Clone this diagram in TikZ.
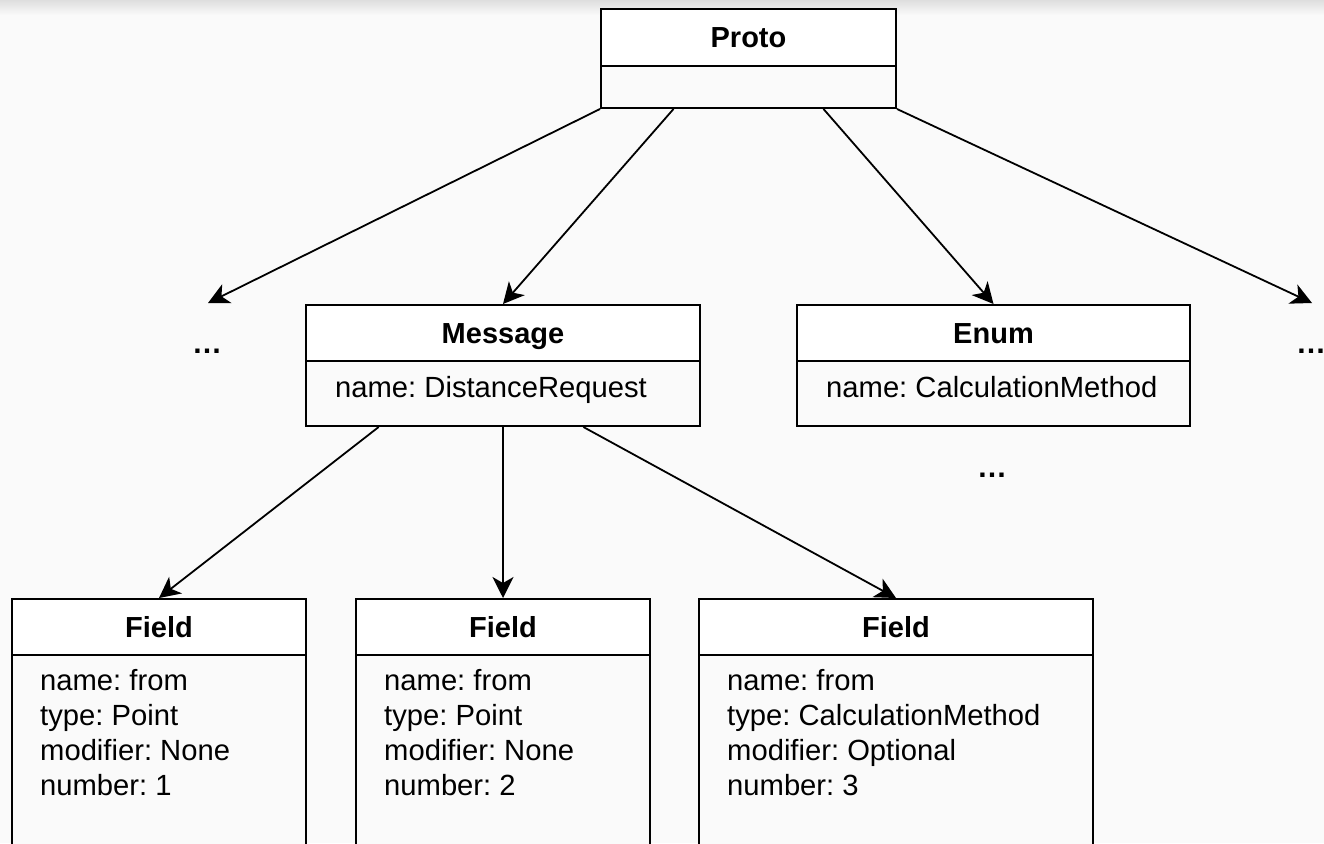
\documentclass[tikz,border=0pt]{standalone}
\usepackage{fontspec}
\setmainfont{Liberation Sans}
\usetikzlibrary{arrows.meta,calc}
\frenchspacing

\definecolor{bg}{RGB}{250,250,250}
\definecolor{shadowgray}{RGB}{222,222,222}

\tikzset{
  hdr/.style={draw, fill=white, line width=2pt, anchor=north west, inner sep=0pt,
    font=\bfseries\fontsize{29}{35}\selectfont, text height=21pt, text depth=0pt},
  bdy/.style={draw, fill=bg, line width=2pt, anchor=north west, inner sep=0pt},
  txt/.style={inner sep=0pt, font=\fontsize{29.2}{35}\selectfont, align=left},
  more/.style={inner sep=0pt, font=\bfseries\fontsize{30}{35}\selectfont, anchor=base},
  arr/.style={-{Stealth[length=21pt,width=21pt,inset=6pt]}, line width=1.8pt},
}

\begin{document}
\begin{tikzpicture}[x=1pt, y=-1pt]
  \clip (0,0) rectangle (1324,843);
  \useasboundingbox (0,0) rectangle (1324,843);
  \fill[bg] (0,0) rectangle (1324,843);
  \shade[top color=shadowgray, bottom color=bg] (0,0) rectangle (1324,15);

  % Proto
  \node[hdr, minimum width=295pt, minimum height=57pt] (protoH) at (600,8) {Proto};
  \node[bdy, minimum width=295pt, minimum height=42pt] (protoB) at (600,65) {};

  % Message
  \node[hdr, minimum width=394pt, minimum height=56pt] (msgH) at (305,304) {Message};
  \node[bdy, minimum width=394pt, minimum height=65pt] (msgB) at (305,360) {};
  \node[txt, anchor=base west] (msgT) at (335,397) {name: DistanceRequest};

  % Enum
  \node[hdr, minimum width=393pt, minimum height=56pt] (enumH) at (796,304) {Enum};
  \node[bdy, minimum width=393pt, minimum height=65pt] (enumB) at (796,360) {};
  \node[txt, anchor=base west] (enumT) at (826,397) {name: CalculationMethod};

  % Fields
  \node[hdr, minimum width=294pt, minimum height=56pt] (f1H) at (11,598) {Field};
  \node[bdy, minimum width=294pt, minimum height=230pt] (f1B) at (11,654) {};
  \node[txt, anchor=north west] (f1T) at (40,669)
    {name: from\\type: Point\\modifier: None\\number: 1};

  \node[hdr, minimum width=294pt, minimum height=56pt] (f2H) at (355,598) {Field};
  \node[bdy, minimum width=294pt, minimum height=230pt] (f2B) at (355,654) {};
  \node[txt, anchor=north west] (f2T) at (384,669)
    {name: from\\type: Point\\modifier: None\\number: 2};

  \node[hdr, minimum width=394pt, minimum height=56pt] (f3H) at (698,598) {Field};
  \node[bdy, minimum width=394pt, minimum height=230pt] (f3B) at (698,654) {};
  \node[txt, anchor=north west] (f3T) at (727,669)
    {name: from\\type: CalculationMethod\\modifier: Optional\\number: 3};

  % Omitted siblings
  \node[more] (dotsL) at (207,353) {…};
  \node[more] (dotsR) at (1311,353) {…};
  \node[more] (dotsE) at (992,477) {…};
  \coordinate (toL) at (208,303);
  \coordinate (toR) at (1312,303);

  % Proto children
  \draw[arr] (protoB.south west) -- (toL);
  \draw[arr] ($(protoB.south west)!0.2475!(protoB.south east)$) -- (msgH.north);
  \draw[arr] ($(protoB.south west)!0.7525!(protoB.south east)$) -- (enumH.north);
  \draw[arr] (protoB.south east) -- (toR);

  % Message fields
  \draw[arr] ($(msgB.south west)!0.186!(msgB.south east)$) -- (f1H.north);
  \draw[arr] (msgB.south) -- (f2H.north);
  \draw[arr] ($(msgB.south west)!0.703!(msgB.south east)$) -- (f3H.north);
\end{tikzpicture}
\end{document}
